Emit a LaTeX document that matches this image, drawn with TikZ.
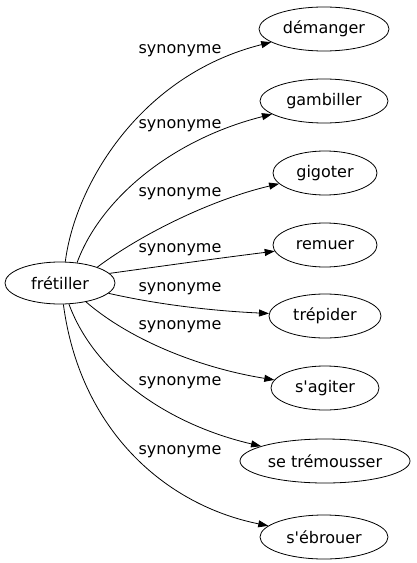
\documentclass[tikz,border=0pt]{standalone}
\usepackage{fontspec}
\setmainfont{DejaVu Sans}[Ligatures=TeXOff]
\usetikzlibrary{arrows.meta,shapes.geometric}
\begin{document}
\begin{tikzpicture}[x=1bp,y=-1bp,
  every node/.style={font=\fontsize{16bp}{19bp}\selectfont},
  term/.style={draw,ellipse,line width=0.8bp,inner sep=0pt,minimum height=44bp},
  rel/.style={draw,line width=0.8bp,-{Triangle[length=10bp,width=7bp]}},
  lab/.style={inner sep=0pt}]
\useasboundingbox (0,0) rectangle (416,563);
\node[term,minimum width=110bp,minimum height=42bp] (f) at (60,283) {frétiller};
\node[term,minimum width=130bp] (t1) at (324,29) {démanger};
\node[term,minimum width=128bp] (t2) at (324,101) {gambiller};
\node[term,minimum width=104bp] (t3) at (325,173) {gigoter};
\node[term,minimum width=104bp] (t4) at (325,245) {remuer};
\node[term,minimum width=112bp] (t5) at (325,316) {trépider};
\node[term,minimum width=108bp] (t6) at (325,388) {s'agiter};
\node[term,minimum width=170bp] (t7) at (325,461) {se trémousser};
\node[term,minimum width=128bp] (t8) at (324,537) {s'ébrouer};
\draw[rel] (f.76) .. controls (75,185) and (140,75) .. (t1);
\draw[rel] (f.50) .. controls (100,200) and (170,140) .. (t2);
\draw[rel] (f.23) .. controls (140,235) and (210,200) .. (t3);
\draw[rel] (f.11) .. controls (170,265) and (220,258) .. (t4);
\draw[rel] (f.-12) .. controls (160,305) and (215,311) .. (t5);
\draw[rel] (f.-36) .. controls (130,340) and (200,368) .. (t6);
\draw[rel] (f.-67) .. controls (95,375) and (170,425) .. (t7);
\draw[rel] (f.-81) .. controls (80,430) and (165,505) .. (t8);
\node[lab] (l1) at (180,51) {synonyme};
\node[lab] (l2) at (180,126) {synonyme};
\node[lab] (l3) at (180,194) {synonyme};
\node[lab] (l4) at (180,250) {synonyme};
\node[lab] (l5) at (180,289) {synonyme};
\node[lab] (l6) at (180,327) {synonyme};
\node[lab] (l7) at (180,383) {synonyme};
\node[lab] (l8) at (180,452) {synonyme};
\end{tikzpicture}
\end{document}
